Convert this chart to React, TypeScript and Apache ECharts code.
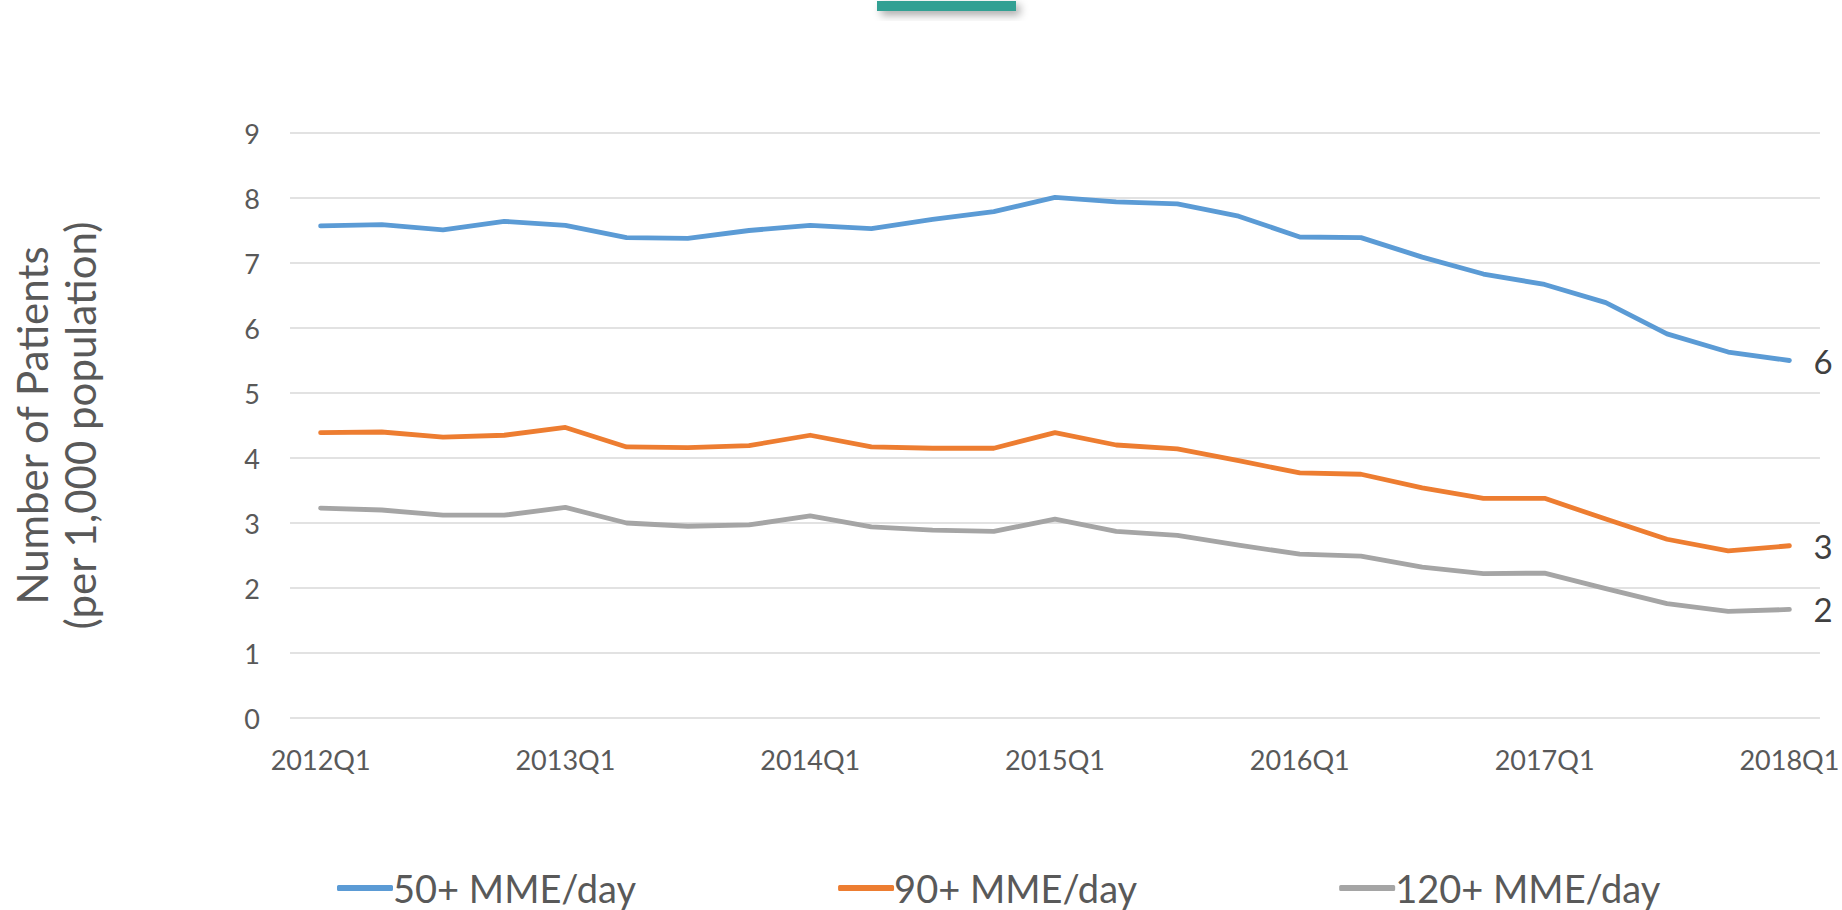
import React, { useEffect, useRef } from "react";
import * as echarts from "echarts";

const categories = [
  "2012Q1", "2012Q2", "2012Q3", "2012Q4",
  "2013Q1", "2013Q2", "2013Q3", "2013Q4",
  "2014Q1", "2014Q2", "2014Q3", "2014Q4",
  "2015Q1", "2015Q2", "2015Q3", "2015Q4",
  "2016Q1", "2016Q2", "2016Q3", "2016Q4",
  "2017Q1", "2017Q2", "2017Q3", "2017Q4",
  "2018Q1",
];

const mme50 = [7.57, 7.59, 7.51, 7.64, 7.58, 7.39, 7.38, 7.5, 7.58, 7.53, 7.67, 7.79, 8.01, 7.94, 7.91, 7.72, 7.4, 7.39, 7.09, 6.83, 6.67, 6.39, 5.91, 5.63, 5.5];
const mme90 = [4.39, 4.4, 4.32, 4.35, 4.47, 4.17, 4.16, 4.19, 4.35, 4.17, 4.15, 4.15, 4.39, 4.2, 4.14, 3.96, 3.77, 3.75, 3.54, 3.38, 3.38, 3.06, 2.75, 2.57, 2.65];
const mme120 = [3.23, 3.2, 3.12, 3.12, 3.24, 3.0, 2.95, 2.97, 3.11, 2.94, 2.89, 2.87, 3.06, 2.87, 2.81, 2.66, 2.52, 2.49, 2.32, 2.22, 2.23, 1.99, 1.76, 1.64, 1.67];

const seriesNames = ["50+ MME/day", "90+ MME/day", "120+ MME/day"];
const seriesColors = ["#5B9BD5", "#ED7D31", "#A5A5A5"];
const yTitle = "Number of Patients\n(per 1,000 population)";

const FONT = "Lato, 'Open Sans', sans-serif";

export default function App() {
  const ref = useRef<HTMLDivElement>(null);
  useEffect(() => {
    if (!ref.current) return;
    const chart = echarts.init(ref.current, undefined, { renderer: "svg" });
    const mk = (name: string, data: number[], color: string) => ({
      name,
      type: "line",
      data,
      symbol: "none",
      lineStyle: { color, width: 4.8, cap: "round", join: "round" },
      itemStyle: { color },
      endLabel: {
        show: true,
        distance: 24,
        fontFamily: FONT,
        fontSize: 33,
        color: "#404040",
        formatter: (p: any) => String(Math.round(Number(p.value))),
      },
    });
    chart.setOption({
      animation: false,
      backgroundColor: "#ffffff",
      grid: { left: 275, right: 20, top: 133, bottom: 192, containLabel: false },
      xAxis: {
        type: "category",
        data: categories,
        boundaryGap: true,
        axisLine: { show: false },
        axisTick: { show: false },
        axisLabel: {
          interval: 3,
          margin: 28,
          fontFamily: FONT,
          fontSize: 27,
          color: "#595959",
        },
      },
      yAxis: {
        type: "value",
        min: 0,
        max: 9,
        interval: 1,
        axisLine: { show: false },
        axisTick: { show: false },
        axisLabel: { margin: 30, fontFamily: FONT, fontSize: 27, color: "#595959" },
        splitLine: { lineStyle: { color: "#D9D9D9", width: 1.5 } },
        name: yTitle,
        nameLocation: "middle",
        nameRotate: 90,
        nameGap: 186,
        nameTextStyle: { fontFamily: FONT, fontSize: 42, color: "#595959", lineHeight: 48 },
      },
      legend: {
        data: seriesNames,
        left: 332,
        top: 864,
        itemGap: 202,
        itemWidth: 56,
        itemHeight: 6,
        icon: "roundRect",
        textStyle: { fontFamily: FONT, fontSize: 38, lineHeight: 38, color: "#595959", padding: [0, 0, 0, -5] },
      },
      graphic: [
        {
          type: "rect",
          left: 877,
          top: 1,
          shape: { width: 139, height: 10 },
          style: {
            fill: "#31A093",
            shadowBlur: 8,
            shadowColor: "rgba(0,0,0,0.35)",
            shadowOffsetX: 4,
            shadowOffsetY: 4,
          },
        },
      ],
      series: [
        mk(seriesNames[0], mme50, seriesColors[0]),
        mk(seriesNames[1], mme90, seriesColors[1]),
        mk(seriesNames[2], mme120, seriesColors[2]),
      ],
    });
    return () => chart.dispose();
  }, []);
  return <div ref={ref} style={{ position: "fixed", left: 0, top: 0, width: 1842, height: 910 }} />;
}
